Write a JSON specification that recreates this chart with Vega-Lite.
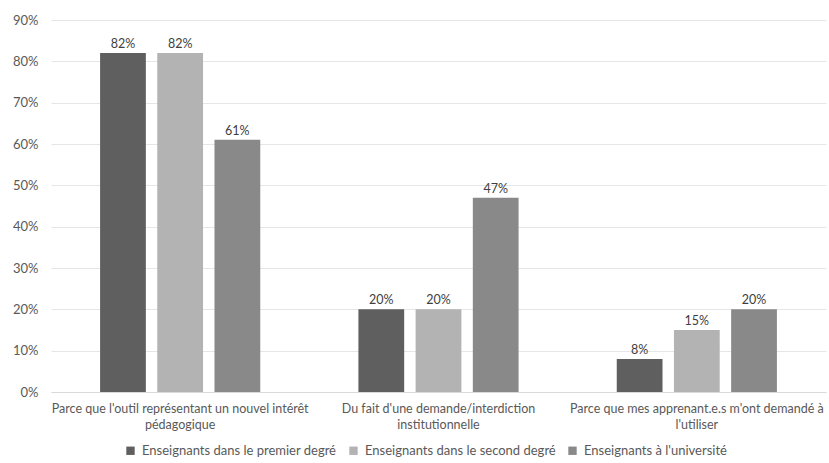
{
  "$schema": "https://vega.github.io/schema/vega-lite/v6.json",
  "width": 775,
  "height": 372,
  "autosize": "none",
  "padding": {"left": 51, "top": 20, "right": 3, "bottom": 71},
  "background": "white",
  "config": {
    "view": {"stroke": null},
    "font": "Lato",
    "axis": {"labelFont": "Lato", "labelColor": "#595959"},
    "legend": {"labelFont": "Lato", "labelColor": "#595959"}
  },
  "data": {
    "values": [
      {"cat": "Parce que l'outil représentant un nouvel intérêt pédagogique", "serie": "Enseignants dans le premier degré", "v": 0.82},
      {"cat": "Parce que l'outil représentant un nouvel intérêt pédagogique", "serie": "Enseignants dans le second degré", "v": 0.82},
      {"cat": "Parce que l'outil représentant un nouvel intérêt pédagogique", "serie": "Enseignants à l'université", "v": 0.61},
      {"cat": "Du fait d'une demande/interdiction institutionnelle", "serie": "Enseignants dans le premier degré", "v": 0.20},
      {"cat": "Du fait d'une demande/interdiction institutionnelle", "serie": "Enseignants dans le second degré", "v": 0.20},
      {"cat": "Du fait d'une demande/interdiction institutionnelle", "serie": "Enseignants à l'université", "v": 0.47},
      {"cat": "Parce que mes apprenant.e.s m'ont demandé à l'utiliser", "serie": "Enseignants dans le premier degré", "v": 0.08},
      {"cat": "Parce que mes apprenant.e.s m'ont demandé à l'utiliser", "serie": "Enseignants dans le second degré", "v": 0.15},
      {"cat": "Parce que mes apprenant.e.s m'ont demandé à l'utiliser", "serie": "Enseignants à l'université", "v": 0.20}
    ]
  },
  "encoding": {
    "x": {
      "field": "cat", "type": "nominal", "sort": null,
      "scale": {"paddingInner": 0.38, "paddingOuter": 0.19},
      "axis": {
        "title": null, "labelAngle": 0, "ticks": false, "domain": true, "domainColor": "#d9d9d9",
        "labelFontSize": 12.5, "labelPadding": 10, "labelLineHeight": 16, "labelLimit": 0,
        "labelExpr": "datum.value == \"Parce que l'outil représentant un nouvel intérêt pédagogique\" ? [\"Parce que l'outil représentant un nouvel intérêt\", 'pédagogique'] : datum.value == \"Du fait d'une demande/interdiction institutionnelle\" ? ['Du fait d\\'une demande/interdiction', 'institutionnelle'] : [\"Parce que mes apprenant.e.s m'ont demandé à\", \"l'utiliser\"]"
      }
    },
    "xOffset": {"field": "serie", "type": "nominal", "sort": null, "scale": {"paddingInner": 0.2, "paddingOuter": 0}},
    "y": {
      "field": "v", "type": "quantitative",
      "scale": {"domain": [0, 0.9]},
      "axis": {
        "title": null, "format": ".0%", "values": [0, 0.1, 0.2, 0.3, 0.4, 0.5, 0.6, 0.7, 0.8, 0.9],
        "labelOverlap": false,
        "domain": false, "ticks": false, "gridColor": "#e6e6e6", "labelFontSize": 13, "labelPadding": 13
      }
    }
  },
  "layer": [
    {
      "mark": {"type": "bar"},
      "encoding": {
        "color": {
          "field": "serie", "type": "nominal", "sort": null,
          "scale": {"range": ["#5f5f5f", "#b3b3b3", "#898989"]},
          "legend": {
            "title": null, "orient": "none", "direction": "horizontal",
            "legendX": 73, "legendY": 424, "symbolType": "square", "symbolSize": 70,
            "labelFontSize": 13, "labelLimit": 0, "columnPadding": 10, "symbolOffset": 0, "labelOffset": 5
          }
        }
      }
    },
    {
      "mark": {"type": "text", "dy": -9, "fontSize": 12.5, "color": "#404040"},
      "encoding": {"text": {"field": "v", "type": "quantitative", "format": ".0%"}}
    }
  ]
}
